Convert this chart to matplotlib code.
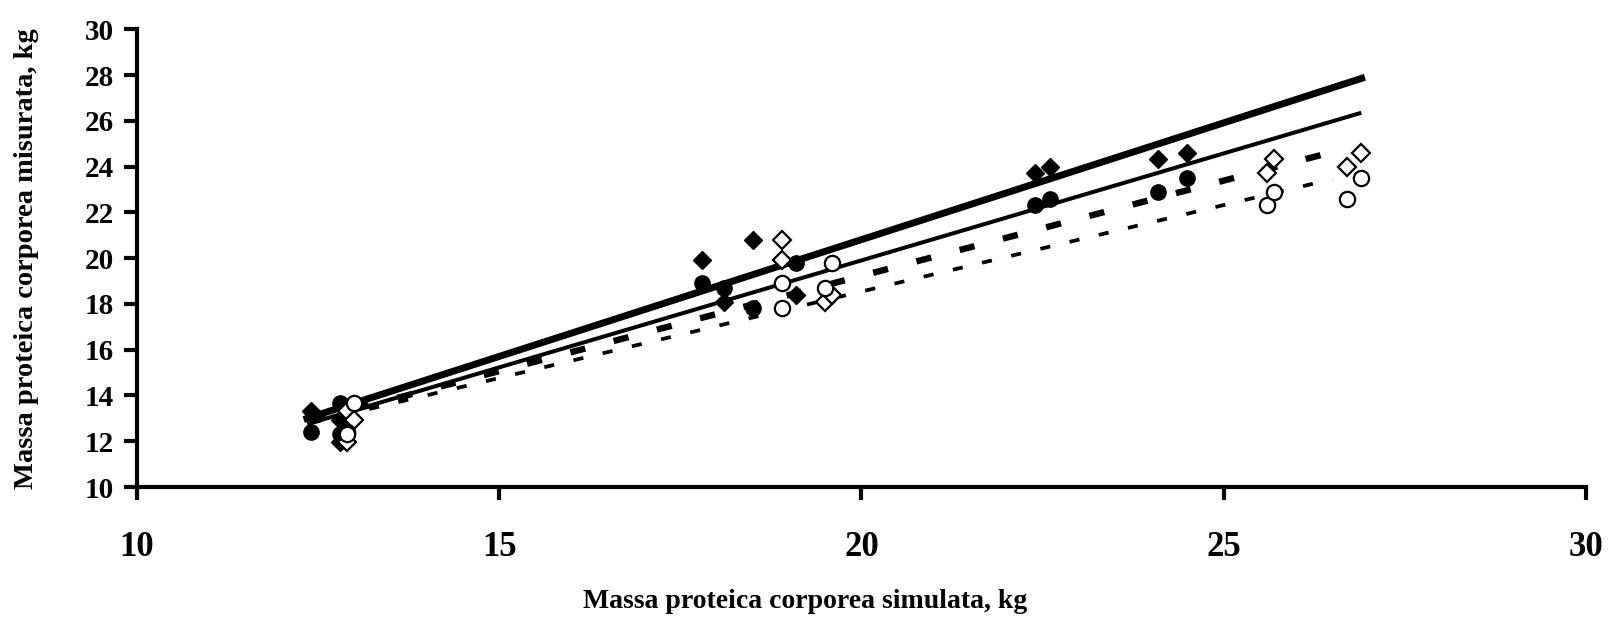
import matplotlib
matplotlib.use("Agg")
import matplotlib.pyplot as plt

# simulated body protein mass (two simulation variants) and measured values
x_sim_a = [12.4, 12.8, 12.8, 17.8, 18.1, 18.5, 19.1, 22.4, 22.6, 24.1, 24.5]
x_sim_b = [12.9, 13.0, 12.9, 18.9, 19.5, 18.9, 19.6, 25.6, 26.7, 25.7, 26.9]
y_circle = [12.4, 13.65, 12.3, 18.9, 18.7, 17.8, 19.8, 22.3, 22.6, 22.9, 23.5]
y_diamond = [13.3, 12.95, 11.95, 19.9, 18.1, 20.8, 18.4, 23.7, 24.0, 24.35, 24.6]

# trend lines (start / end)
thick_x, thick_y = [12.3, 26.95], [12.95, 27.9]
thin_x, thin_y = [12.35, 26.9], [12.75, 26.35]
dash_x, dash_y = [12.4, 26.7], [12.9, 24.8]
dot_x, dot_y = [12.4, 26.5], [12.8, 23.45]

x_ticks = [10, 15, 20, 25, 30]
y_ticks = [10, 12, 14, 16, 18, 20, 22, 24, 26, 28, 30]

plt.rcParams["font.family"] = ["Liberation Serif", "DejaVu Serif"]
plt.rcParams["font.weight"] = "bold"

fig = plt.figure(figsize=(16.1, 6.22), dpi=100)
ax = fig.add_axes([0.0851, 0.217, 0.8999, 0.736])

# trend lines
ax.plot(thick_x, thick_y, color="black", linewidth=5, solid_capstyle="butt")
ax.plot(thin_x, thin_y, color="black", linewidth=2.9, solid_capstyle="butt")
ax.plot(dash_x, dash_y, color="black", linewidth=4.6, linestyle=(0, (2.4, 4.6)),
        dash_capstyle="butt")
ax.plot(dot_x, dot_y, color="black", linewidth=2.7, linestyle=(0, (2.7, 5.3)),
        dash_capstyle="butt")

# points
ax.plot(x_sim_a, y_diamond, "D", color="black", markersize=9.5, linestyle="none")
ax.plot(x_sim_a, y_circle, "o", color="black", markersize=11, linestyle="none")
ax.plot(x_sim_b, y_diamond, "D", markerfacecolor="white", markeredgecolor="black",
        markeredgewidth=1.6, markersize=9.5, linestyle="none")
ax.plot(x_sim_b, y_circle, "o", markerfacecolor="white", markeredgecolor="black",
        markeredgewidth=1.6, markersize=11, linestyle="none")

ax.set_xlim(10, 30)
ax.set_ylim(10, 30)
ax.set_xticks(x_ticks)
ax.set_yticks(y_ticks)

for s in ["top", "right"]:
    ax.spines[s].set_visible(False)
for s in ["left", "bottom"]:
    ax.spines[s].set_linewidth(3)

ax.tick_params(axis="x", direction="out", length=9.5, width=3, pad=22, labelsize=25)
ax.tick_params(axis="y", direction="out", length=9.5, width=3, pad=7, labelsize=21)
for lbl in ax.get_xticklabels() + ax.get_yticklabels():
    lbl.set_fontweight("bold")

ax.set_xlabel("Massa proteica corporea simulata, kg", fontsize=20, fontweight="bold")
ax.set_ylabel("Massa proteica corporea misurata, kg", fontsize=20.5, fontweight="bold")
# x label sits at the figure centre, y label near the left edge
ax.xaxis.label.set_verticalalignment("center")
ax.xaxis.set_label_coords((0.5 - 0.0851) / 0.8999, (1 - 602 / 622 - 0.217) / 0.736)
ax.yaxis.set_label_coords((26 / 1610 - 0.0851) / 0.8999, 0.5)
ax.yaxis.label.set_verticalalignment("center")

fig.savefig("out.png", dpi=100)
